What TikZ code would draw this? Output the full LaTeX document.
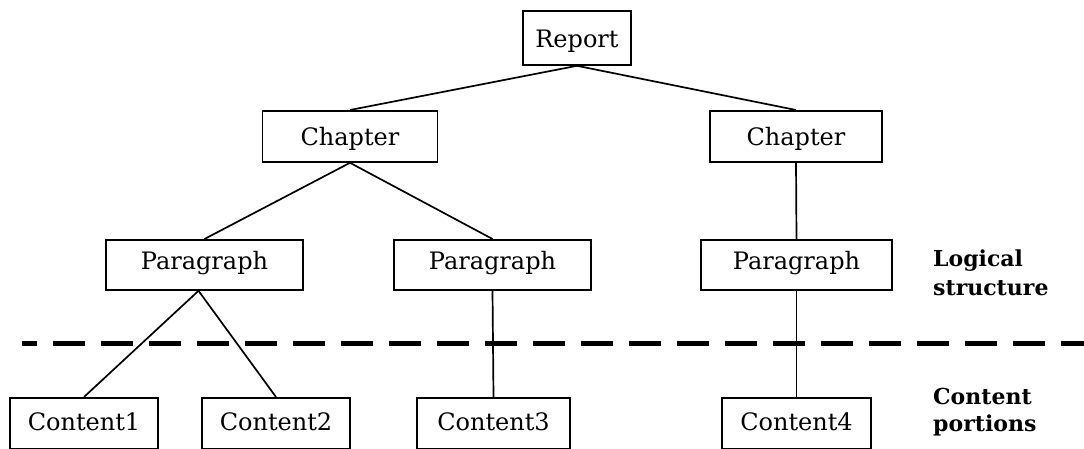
\documentclass[tikz,border=0pt]{standalone}
\usepackage{fontspec}
\setmainfont{DejaVu Serif}
\usetikzlibrary{calc}
\begin{document}
\begin{tikzpicture}[x=1pt,y=-1pt,
  box/.style={draw, line width=1.8pt, rectangle, inner xsep=0pt, inner ysep=0pt,
    anchor=north, font=\fontsize{24}{28}\selectfont},
  conn/.style={line width=1.7pt},
  sidelabel/.style={anchor=base west, inner sep=0pt,
    font=\fontsize{22}{26}\selectfont\bfseries}]
\useasboundingbox (0,0) rectangle (1084,449);
% nodes (anchored at top centre)
\node[box, minimum width=108pt, text height=37pt, text depth=17pt] (rep) at (577,10) {Report};
\node[box, minimum width=175pt, text height=35pt, text depth=16pt] (chL) at (350,110) {Chapter};
\node[box, minimum width=172pt, text height=35pt, text depth=16pt] (chR) at (796,110) {Chapter};
\node[box, minimum width=197pt, text height=30pt, text depth=20pt] (p1) at (204.5,239) {Paragraph};
\node[box, minimum width=197pt, text height=30pt, text depth=20pt] (p2) at (492.5,239) {Paragraph};
\node[box, minimum width=191pt, text height=30pt, text depth=20pt] (p3) at (796.5,239) {Paragraph};
\node[box, minimum width=148pt, text height=33pt, text depth=18pt] (c1) at (84,397) {Content1};
\node[box, minimum width=148pt, text height=33pt, text depth=18pt] (c2) at (276,397) {Content2};
\node[box, minimum width=153pt, text height=33pt, text depth=18pt] (c3) at (493.5,397) {Content3};
\node[box, minimum width=149pt, text height=33pt, text depth=18pt] (c4) at (796.5,397) {Content4};
% side labels
\node[sidelabel] (lg1) at (933,266) {Logical};
\node[sidelabel] (lg2) at (933,295) {structure};
\node[sidelabel] (cp1) at (933,404) {Content};
\node[sidelabel] (cp2) at (933,431) {portions};
% dashed separator
\coordinate (dl) at (22,343);
\coordinate (dr) at (1084,343);
\draw[line width=5pt, dash pattern=on 32pt off 16pt, dash phase=17pt] (dl) -- (dr);
% connectors
\draw[conn] (rep.south) -- (chL.north);
\draw[conn] (rep.south) -- (chR.north);
\draw[conn] (chL.south) -- (p1.north);
\draw[conn] (chL.south) -- (p2.north);
\draw[conn] (chR.south) -- (p3.north);
\draw[conn] ([xshift=-6pt]p1.south) -- (c1.north);
\draw[conn] ([xshift=-6pt]p1.south) -- (c2.north);
\draw[conn] (p2.south) -- (c3.north);
\draw[conn] (p3.south) -- (c4.north);
\end{tikzpicture}
\end{document}
